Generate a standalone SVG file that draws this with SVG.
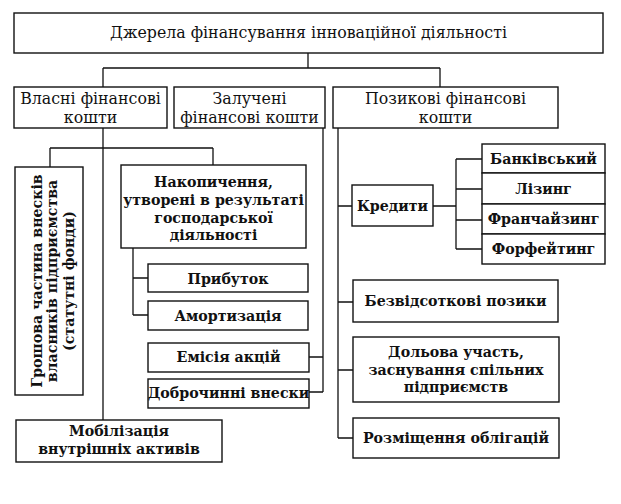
<svg xmlns="http://www.w3.org/2000/svg" width="621" height="504" viewBox="0 0 621 504">
<style>
rect{fill:#fff;stroke:#111;stroke-width:1.4}
.c path{fill:none;stroke:#111;stroke-width:1.3}
text{font-family:"DejaVu Serif","Liberation Serif",serif;fill:#111;text-anchor:middle}
.n{font-size:15.8px}
.b{font-size:14.2px;font-weight:bold}
</style>
<rect x="0" y="0" width="621" height="504" style="fill:#fff;stroke:none"/>
<g class="c" id="connectors">
<path d="M308,53V68M103,68H440M103,68V87M440,68V87"/>
<path d="M103,128V420M50,148H213M50,148V167M213,148V165"/>
<path d="M133,248V315M133,278H148M133,315H148"/>
<path d="M323,128V392M309,357H323M309,392H323"/>
<path d="M338,128V438M338,206H352M338,302H353M338,370H353M338,438H353"/>
<path d="M433,206H456M456,159V249M456,159H482M456,189H482M456,220H482M456,249H482"/>
</g>
<g id="root"><rect x="14" y="13" width="589" height="40"/><text class="n" x="308.5" y="38">Джерела фінансування інноваційної діяльності</text></g>
<g id="vlasni"><rect x="14" y="87" width="153" height="41"/><text class="n" x="90.5" y="104">Власні фінансові</text><text class="n" x="90.5" y="123">кошти</text></g>
<g id="zalucheni"><rect x="174" y="87" width="151" height="41"/><text class="n" x="249.5" y="104">Залучені</text><text class="n" x="249.5" y="123">фінансові кошти</text></g>
<g id="pozykovi"><rect x="333" y="87" width="225" height="41"/><text class="n" x="445.5" y="104">Позикові фінансові</text><text class="n" x="445.5" y="123">кошти</text></g>
<g id="hroshova"><rect x="15" y="167" width="68" height="228"/>
<g transform="translate(49,281) rotate(-90)">
<text class="b" x="0" y="-7">Грошова частина внесків</text>
<text class="b" x="0" y="8">власників підприємства</text>
<text class="b" x="0" y="25">(статутні фонди)</text>
</g></g>
<g id="nakopychennia"><rect x="121" y="165" width="185" height="83"/><text class="b" x="213.5" y="187">Накопичення,</text><text class="b" x="213.5" y="205">утворені в результаті</text><text class="b" x="213.5" y="223">господарської</text><text class="b" x="213.5" y="240">діяльності</text></g>
<g id="prybutok"><rect x="148" y="264" width="160" height="28"/><text class="b" x="228" y="284">Прибуток</text></g>
<g id="amortyzatsiia"><rect x="148" y="301" width="160" height="29"/><text class="b" x="228" y="321">Амортизація</text></g>
<g id="emisiia"><rect x="148" y="343" width="161" height="29"/><text class="b" x="228.5" y="362">Емісія акцій</text></g>
<g id="dobrochynni"><rect x="148" y="379" width="161" height="29"/><text class="b" x="228.5" y="398">Доброчинні внески</text></g>
<g id="mobilizatsiia"><rect x="16" y="420" width="206" height="42"/><text class="b" x="119" y="436">Мобілізація</text><text class="b" x="119" y="454">внутрішніх активів</text></g>
<g id="kredyty"><rect x="352" y="185" width="81" height="41"/><text class="b" x="392.5" y="211">Кредити</text></g>
<g id="bankivskyi"><rect x="482" y="144" width="123" height="29"/><text class="b" x="543.5" y="164">Банківський</text></g>
<g id="lizynh"><rect x="482" y="173" width="123" height="31"/><text class="b" x="543.5" y="194">Лізинг</text></g>
<g id="franchaizynh"><rect x="482" y="204" width="123" height="30"/><text class="b" x="543.5" y="224">Франчайзинг</text></g>
<g id="forfeitynh"><rect x="482" y="234" width="123" height="30"/><text class="b" x="543.5" y="254">Форфейтинг</text></g>
<g id="bezvidsotkovi"><rect x="353" y="280" width="205" height="42"/><text class="b" x="455.5" y="306">Безвідсоткові позики</text></g>
<g id="dolova"><rect x="353" y="337" width="206" height="65"/><text class="b" x="456" y="357">Дольова участь,</text><text class="b" x="456" y="375">заснування спільних</text><text class="b" x="456" y="392">підприємств</text></g>
<g id="rozmishchennia"><rect x="353" y="418" width="206" height="40"/><text class="b" x="456" y="443">Розміщення облігацій</text></g>
</svg>
